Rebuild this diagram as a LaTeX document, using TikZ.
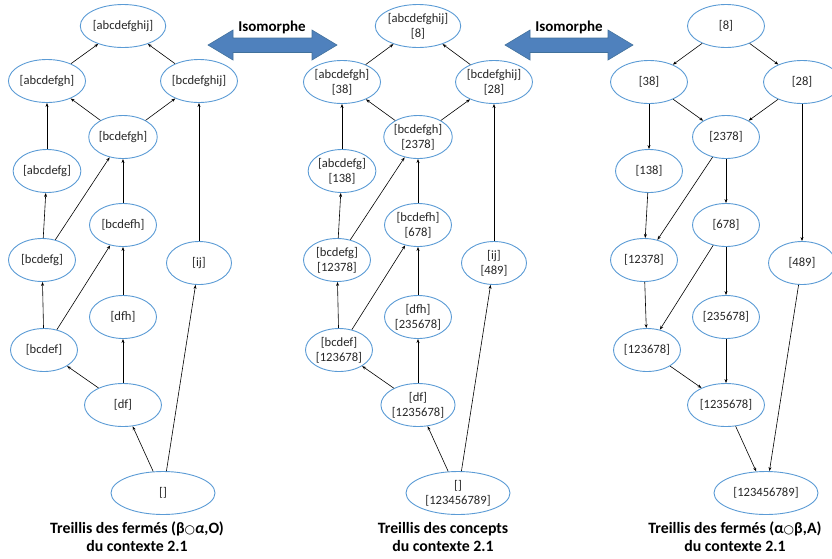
\documentclass[tikz,border=0pt]{standalone}
\usepackage{fontspec}
\setmainfont{Carlito}
\newfontfamily\symfont{DejaVu Sans}
\usetikzlibrary{shapes.geometric,arrows.meta}
\definecolor{ellblue}{HTML}{5B9BD5}
\definecolor{arrfill}{HTML}{4F81BD}
\definecolor{arrline}{HTML}{41719C}
\definecolor{txt}{HTML}{262626}
\tikzset{
  ell/.style={ellipse,draw=ellblue,line width=0.9pt,inner sep=0pt,minimum width=67pt,minimum height=43pt,
    align=center,text=txt,font=\fontsize{12.6}{15}\selectfont},
  ellw/.style={ell,minimum width=77pt},
  ellb/.style={ell,minimum width=104pt},
  conn/.style={-{Stealth[length=4pt,width=3pt]},line width=0.6pt,black},
  captxt/.style={align=center,font=\bfseries\fontsize{15.8}{18}\selectfont,text=black},
  iso/.style={fill=white,inner sep=1.5pt,font=\bfseries\fontsize{15}{16}\selectfont,text=black},
  dbl/.style={fill=arrfill,draw=arrline,line width=0.6pt}
}
\newcommand{\cir}{{\symfont\fontsize{12}{12}\selectfont ○}}
\newcommand{\nl}{\\{}}
\begin{document}
\begin{tikzpicture}[x=1pt,y=-1pt]
\useasboundingbox (0,0) rectangle (832,558);
% left lattice
\node[ellw] (L1) at (123,26) {[abcdefghij]};
\node[ellw] (L2) at (47,81) {[abcdefgh]};
\node[ellw] (L3) at (199,81) {[bcdefghij]};
\node[ell] (L4) at (123,137) {[bcdefgh]};
\node[ell] (L5) at (47,171) {[abcdefg]};
\node[ell] (L6) at (123,225) {[bcdefh]};
\node[ell] (L7) at (42,260) {[bcdefg]};
\node[ell,minimum width=65pt] (L8) at (199,263) {[ij]};
\node[ell] (L9) at (123,317) {[dfh]};
\node[ell] (L10) at (44,350) {[bcdef]};
\node[ellw] (L11) at (123,405) {[df]};
\node[ellb] (L12) at (163,493) {[]};
\foreach \a/\b in {L2/L1,L3/L1,L4/L2,L4/L3,L5/L2,L7/L5,L7/L4,L6/L4,L8/L3,L10/L7,L10/L6,L9/L6,L11/L10,L11/L9,L12/L11,L12/L8}
  \draw[conn] (\a) -- (\b);
% middle lattice
\node[ellw] (M1) at (418,26) {[abcdefghij]\nl[8]};
\node[ellw] (M2) at (342,82) {[abcdefgh]\nl[38]};
\node[ellw] (M3) at (494,82) {[bcdefghij]\nl[28]};
\node[ell] (M4) at (418,137) {[bcdefgh]\nl[2378]};
\node[ell] (M5) at (342,171) {[abcdefg]\nl[138]};
\node[ell] (M6) at (418,225) {[bcdefh]\nl[678]};
\node[ell] (M7) at (337,260) {[bcdefg]\nl[12378]};
\node[ell,minimum width=65pt] (M8) at (494,263) {[ij]\nl[489]};
\node[ell] (M9) at (418,317) {[dfh]\nl[235678]};
\node[ell] (M10) at (339,350) {[bcdef]\nl[123678]};
\node[ell] (M11) at (418,405) {[df]\nl[1235678]};
\node[ellb] (M12) at (458,493) {[]\nl[123456789]};
\foreach \a/\b in {M2/M1,M3/M1,M4/M2,M4/M3,M5/M2,M7/M5,M7/M4,M6/M4,M8/M3,M10/M7,M10/M6,M9/M6,M11/M10,M11/M9,M12/M11,M12/M8}
  \draw[conn] (\a) -- (\b);
% right lattice
\node[ellw] (R1) at (726,26) {[8]};
\node[ellw] (R2) at (649,82) {[38]};
\node[ellw] (R3) at (802,82) {[28]};
\node[ell] (R4) at (726,137) {[2378]};
\node[ell] (R5) at (649,171) {[138]};
\node[ell] (R6) at (726,225) {[678]};
\node[ell] (R7) at (644,260) {[12378]};
\node[ell] (R8) at (802,263) {[489]};
\node[ell] (R9) at (726,317) {[235678]};
\node[ell] (R10) at (647,350) {[123678]};
\node[ellw] (R11) at (726,405) {[1235678]};
\node[ellb] (R12) at (766,493) {[123456789]};
\foreach \a/\b in {R1/R2,R1/R3,R2/R4,R3/R4,R2/R5,R5/R7,R4/R7,R4/R6,R3/R8,R7/R10,R6/R10,R6/R9,R10/R11,R9/R11,R11/R12,R8/R12}
  \draw[conn] (\a) -- (\b);
% captions
\node[captxt] (C1) at (137,537) {Treillis des fermés (β\cir\textit{α},O)\\du contexte 2.1};
\node[captxt] (C2) at (443,537) {Treillis des concepts\\du contexte 2.1};
\node[captxt] (C3) at (735,537) {Treillis des fermés (α\cir β,A)\\du contexte 2.1};
% isomorphism arrows
\draw[dbl] (208,45) -- (233,30) -- (233,38) -- (312,38) -- (312,30) -- (337,45) -- (312,60) -- (312,52.5) -- (233,52.5) -- (233,60) -- cycle;
\node[iso] (I1) at (272,27) {Isomorphe};
\draw[dbl] (505,45) -- (530,30) -- (530,38) -- (608,38) -- (608,30) -- (633,45) -- (608,60) -- (608,52.5) -- (530,52.5) -- (530,60) -- cycle;
\node[iso] (I2) at (569,27) {Isomorphe};
\end{tikzpicture}
\end{document}
